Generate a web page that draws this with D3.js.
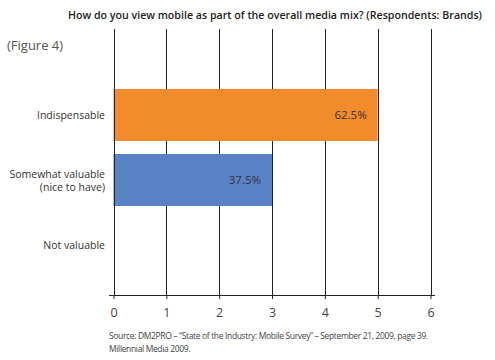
<!DOCTYPE html>
<html><head><meta charset="utf-8">
<script src="https://cdn.jsdelivr.net/npm/d3@7"></script>
<style>body{margin:0;background:#fff}svg{display:block}</style>
</head><body>
<script>
const categories = ["Indispensable", "Somewhat valuable|(nice to have)", "Not valuable"];
const values = [5, 3, 0];
const valueLabels = ["62.5%", "37.5%", ""];
const barColors = ["#f28b2b", "#5a82c6", "#999999"];
const xTicks = [0, 1, 2, 3, 4, 5, 6];
const titleText = "How do you view mobile as part of the overall media mix? (Respondents: Brands)";
const figureText = "(Figure 4)";
const sourceLines = ["Source: DM2PRO – \u201cState of the Industry: Mobile Survey\u201d – September 21, 2009, page 39.", "Millennial Media 2009."];

const W = 495, H = 360;
const svg = d3.select("body").append("svg").attr("width", W).attr("height", H)
  .style("font-family", "'Open Sans', sans-serif");

const x = d3.scaleLinear().domain([0, 6]).range([113.5, 430.5]);
const y = d3.scaleBand().domain(categories).range([82.5, 277.5]).paddingInner(0.2).paddingOuter(0.1);
const gridTop = 29, axisY = 295;

// title
svg.append("text").attr("x", 275).attr("y", 19).attr("text-anchor", "middle")
  .attr("font-size", 11).attr("font-weight", 600).attr("fill", "#222")
  .attr("textLength", 414).attr("lengthAdjust", "spacingAndGlyphs").text(titleText);

svg.append("text").attr("x", 7).attr("y", 50).attr("font-size", 13).attr("fill", "#555")
  .text(figureText);

// grid lines
svg.append("g").selectAll("line").data(xTicks.slice(1)).join("line")
  .attr("x1", d => Math.round(x(d)) + 0.5).attr("x2", d => Math.round(x(d)) + 0.5)
  .attr("y1", gridTop).attr("y2", axisY).attr("stroke", "#222").attr("stroke-width", 1);

// bars
svg.append("g").selectAll("rect").data(categories).join("rect")
  .attr("x", x(0)).attr("y", d => y(d))
  .attr("width", (d, i) => x(values[i]) - x(0)).attr("height", y.bandwidth())
  .attr("fill", (d, i) => barColors[i]);

// zero line
svg.append("line").attr("x1", Math.round(x(0)) + 0.5).attr("x2", Math.round(x(0)) + 0.5)
  .attr("y1", gridTop).attr("y2", axisY).attr("stroke", "#222");

// value labels
svg.append("g").selectAll("text").data(categories).join("text")
  .attr("x", (d, i) => x(values[i]) - 11).attr("y", d => y(d) + y.bandwidth() / 2 + 4)
  .attr("text-anchor", "end").attr("font-size", 11.5).attr("fill", "#333")
  .text((d, i) => valueLabels[i]);

// category labels (one text element per line)
const catLines = [];
categories.forEach(d => {
  const lines = d.split("|");
  const cy = y(d) + y.bandwidth() / 2;
  lines.forEach((ln, j) => catLines.push({ t: ln, y: cy + 4 + (j - (lines.length - 1) / 2) * 13 }));
});
svg.append("g").selectAll("text").data(catLines).join("text")
  .attr("x", 105).attr("y", d => d.y)
  .attr("text-anchor", "end").attr("font-size", 10.5).attr("fill", "#333")
  .text(d => d.t);

// x axis
const axis = d3.axisBottom(x).tickValues(xTicks).tickFormat(d3.format("d"))
  .tickSize(4).tickPadding(9).tickSizeOuter(0);
const gx = svg.append("g").attr("transform", `translate(0,${axisY})`).call(axis);
gx.select(".domain").remove();
gx.append("line").attr("x1", 109).attr("x2", 435).attr("y1", 0.5).attr("y2", 0.5).attr("stroke", "#222");
gx.selectAll(".tick line").attr("stroke", "#222");
gx.selectAll(".tick text").attr("font-size", 12.5).attr("fill", "#444")
  .attr("font-family", "'Open Sans', sans-serif");

// source
svg.append("g").selectAll("text").data(sourceLines).join("text")
  .attr("x", 109).attr("y", (d, i) => 339 + i * 13)
  .attr("font-size", 8.5).attr("fill", "#444").attr("letter-spacing", -0.35)
  .text(d => d);
</script>
</body></html>
